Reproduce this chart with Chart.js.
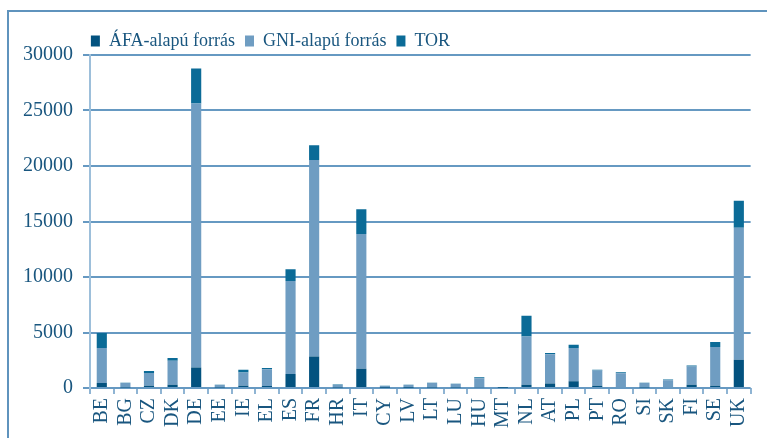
<!DOCTYPE html>
<html>
<head>
<meta charset="utf-8">
<script src="https://cdn.jsdelivr.net/npm/chart.js@4"></script>
<style>
  html, body { margin: 0; padding: 0; background: #fff; }
  #wrap { position: relative; width: 767px; height: 438px; overflow: hidden; }
  #frame { position: absolute; left: 7px; top: 10px; width: 800px; height: 480px; border: 2px solid #5f93bd; }
  #myChart { position: absolute; left: 0; top: 0; }
</style>
</head>
<body>
<div id="wrap">
  <div id="frame"></div>
  <canvas id="myChart" width="767" height="438"></canvas>
</div>
<script>
const countries = ['BE', 'BG', 'CZ', 'DK', 'DE', 'EE', 'IE', 'EL', 'ES', 'FR', 'HR', 'IT', 'CY', 'LV',
    'LT', 'LU', 'HU', 'MT', 'NL', 'AT', 'PL', 'PT', 'RO', 'SI', 'SK', 'FI', 'SE', 'UK'];
const afaValues = [450, 50, 200, 300, 1850, 40, 200, 180, 1260, 2840, 50, 1740, 30, 30,
    40, 40, 60, 15, 300, 400, 600, 200, 100, 50, 80, 300, 200, 2550];
const gniValues = [3150, 390, 1150, 2160, 23780, 230, 1200, 1520, 8390, 17690, 230, 12140, 150, 240,
    400, 320, 820, 70, 4340, 2650, 3000, 1370, 1220, 390, 610, 1630, 3490, 11890];
const torValues = [1350, 30, 180, 240, 3150, 30, 250, 100, 1050, 1350, 30, 2220, 20, 30,
    40, 30, 80, 10, 1860, 100, 300, 80, 100, 40, 80, 100, 450, 2430];
const yTicks = [0, 5000, 10000, 15000, 20000, 25000, 30000];

const textColor = '#19567f';
const gridColor = '#6699c2';

// legend magassága + eltolása (a referencián balra tolva van)
const legendTweak = {
    id: 'legendTweak',
    beforeInit(chart) {
        const origFit = chart.legend.fit;
        chart.legend.fit = function () {
            origFit.bind(chart.legend)();
            this.height = 55;
        };
    },
    afterLayout(chart) {
        const lg = chart.legend;
        lg.left -= 108;
        lg.right -= 108;
        lg.top += 22;
        lg.bottom += 22;
    }
};

const ctx = document.getElementById('myChart').getContext('2d');
const myChart = new Chart(ctx, {
    type: 'bar',
    data: {
        labels: countries,
        datasets: [
            {
                label: 'ÁFA-alapú forrás',
                data: afaValues,
                backgroundColor: '#03527f',
            },
            {
                label: 'GNI-alapú forrás',
                data: gniValues,
                backgroundColor: '#6f9dc2',
            },
            {
                label: 'TOR',
                data: torValues,
                backgroundColor: '#0b6b97',
            }
        ]
    },
    options: {
        responsive: false,
        animation: false,
        layout: { padding: { top: 0, right: 10, bottom: 0, left: 0 } },
        datasets: {
            bar: { categoryPercentage: 1, barPercentage: 0.43 }
        },
        plugins: {
            tooltip: { enabled: false },
            legend: {
                position: 'top',
                labels: {
                    color: textColor,
                    boxWidth: 9,
                    boxHeight: 11,
                    padding: 10,
                    font: { family: "'Liberation Serif', serif", size: 18 }
                }
            }
        },
        scales: {
            x: {
                stacked: true,
                afterFit(scale) { scale.height = 50; },
                grid: {
                    offset: true,
                    drawOnChartArea: false,
                    color: '#8fb4d3',
                    lineWidth: 2,
                    tickLength: 6
                },
                border: { display: false },
                ticks: {
                    color: textColor,
                    minRotation: 90,
                    maxRotation: 90,
                    autoSkip: false,
                    padding: 4,
                    font: { family: "'Liberation Serif', serif", size: 20 }
                }
            },
            y: {
                stacked: true,
                min: 0,
                max: 30000,
                afterFit(scale) { scale.width = 90; },
                afterBuildTicks(scale) {
                    scale.ticks = yTicks.map(v => ({ value: v }));
                },
                grid: {
                    color: gridColor,
                    lineWidth: 2,
                    tickLength: 7
                },
                border: { color: '#9dbfda', width: 2 },
                ticks: {
                    color: textColor,
                    padding: 10,
                    font: { family: "'Liberation Serif', serif", size: 20 },
                    callback: function (value) {
                        return String(value); // nincs ezres elválasztó
                    }
                }
            }
        }
    },
    plugins: [legendTweak]
});
</script>
</body>
</html>
